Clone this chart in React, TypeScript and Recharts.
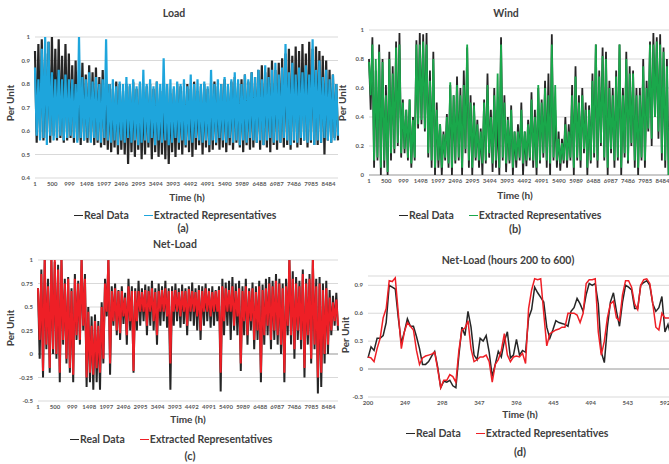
import { CartesianGrid, Line, LineChart, ReferenceLine, XAxis, YAxis } from "recharts";

// hour tick labels (Excel category labels every 499 h)
const hourTicks = [1, 500, 999, 1498, 1997, 2496, 2995, 3494, 3993, 4492, 4991, 5490, 5989, 6488, 6987, 7486, 7985, 8484];
const zoomTicks = [200, 249, 298, 347, 396, 445, 494, 543, 592];
const loadTicks = [0.4, 0.5, 0.6, 0.7, 0.8, 0.9, 1];
const windTicks = [0, 0.2, 0.4, 0.6, 0.8, 1];
const netTicks = [-0.5, -0.25, 0, 0.25, 0.5, 0.75, 1];
const zoomYTicks = [-0.3, 0, 0.3, 0.6, 0.9];

// yearly series, read as daily high / low envelopes (90 steps across the year)
const loadRealHigh = [
  0.94, 0.97, 0.99, 0.93, 0.98, 1.0, 0.95, 0.99, 0.92, 0.97, 0.93,
  0.88, 0.9, 0.86, 0.89, 0.84, 0.88, 0.85, 0.87, 0.83, 0.86, 0.82,
  0.8, 0.78, 0.81, 0.8, 0.77, 0.8, 0.79, 0.81, 0.78, 0.8, 0.76, 0.79, 0.8, 0.78, 0.81, 0.77, 0.79,
  0.8, 0.76, 0.78, 0.8, 0.79, 0.77, 0.8, 0.78, 0.81, 0.77, 0.79, 0.8, 0.78, 0.8, 0.81, 0.79,
  0.8, 0.82, 0.79, 0.81, 0.83, 0.8, 0.82, 0.84, 0.81, 0.85, 0.83,
  0.86, 0.88, 0.85, 0.87, 0.9, 0.86, 0.89, 0.91,
  0.93, 0.95, 0.92, 0.96, 0.94, 0.97, 0.93, 0.98, 0.95, 0.96, 0.94, 0.92, 0.9,
  0.86, 0.84, 0.8,
];
const loadRealLow = [
  0.55, 0.57, 0.56, 0.57, 0.55, 0.58, 0.56, 0.57, 0.55, 0.56, 0.57, 0.55, 0.56, 0.54, 0.56, 0.55, 0.56, 0.54, 0.55, 0.53, 0.54, 0.52,
  0.51, 0.53, 0.5, 0.52, 0.5, 0.46, 0.51, 0.49, 0.52, 0.48, 0.5, 0.53, 0.48, 0.51, 0.49, 0.5, 0.48,
  0.46, 0.51, 0.49, 0.52, 0.5, 0.53, 0.51, 0.49, 0.52, 0.54, 0.5, 0.53, 0.51, 0.52, 0.54, 0.52,
  0.53, 0.51, 0.54, 0.52, 0.55, 0.53, 0.51, 0.54, 0.52, 0.53, 0.55, 0.52, 0.54, 0.53, 0.51, 0.54, 0.52,
  0.55, 0.53, 0.54, 0.52, 0.55, 0.53, 0.54, 0.56, 0.53, 0.55, 0.54, 0.54, 0.55, 0.5, 0.56, 0.55, 0.57, 0.56,
];
const loadRepHigh = [
  0.87, 0.82, 0.95, 1.0, 0.98, 0.85, 0.82, 0.86, 0.82, 0.84, 0.82,
  0.82, 0.8, 1.0, 0.83, 0.82, 0.85, 0.81, 0.83, 0.8, 0.82, 0.99,
  0.8, 0.82, 0.79, 0.81, 0.8, 0.83, 0.8, 0.82, 0.79, 0.81, 0.86, 0.8, 0.82, 0.79, 0.81, 0.8, 0.91,
  0.8, 0.82, 0.79, 0.81, 0.8, 0.82, 0.79, 0.84, 0.8, 0.82, 0.8, 0.81, 0.79, 0.86, 0.8, 0.82,
  0.8, 0.83, 0.8, 0.82, 0.85, 0.82, 0.8, 0.84, 0.82, 0.85, 0.83, 0.86, 0.82, 0.88, 0.83, 0.86, 0.89, 0.84, 0.87,
  0.97, 0.85, 0.89, 0.84, 0.87, 0.85, 0.88, 0.84, 0.99, 0.86, 0.9, 0.83, 0.86, 0.82, 0.84, 0.8,
];
const loadRepLow = [
  0.58, 0.56, 0.57, 0.54, 0.58, 0.56, 0.57, 0.58, 0.56, 0.57, 0.58, 0.57, 0.55, 0.57, 0.56, 0.57, 0.55, 0.57, 0.56, 0.55, 0.57, 0.56,
  0.55, 0.56, 0.54, 0.56, 0.55, 0.57, 0.55, 0.56, 0.54, 0.55, 0.56, 0.55, 0.57, 0.54, 0.56, 0.55, 0.56,
  0.54, 0.55, 0.57, 0.55, 0.56, 0.54, 0.56, 0.55, 0.57, 0.56, 0.55, 0.56, 0.54, 0.56, 0.55, 0.57,
  0.56, 0.55, 0.57, 0.55, 0.56, 0.54, 0.56, 0.55, 0.57, 0.56, 0.55, 0.56, 0.54, 0.56, 0.57, 0.55, 0.56,
  0.55, 0.57, 0.56, 0.54, 0.56, 0.55, 0.57, 0.56, 0.55, 0.56, 0.54, 0.56, 0.55, 0.57, 0.56, 0.55, 0.56, 0.58,
];

const windRealHigh = [
  0.8, 0.95, 0.72, 0.9, 0.8, 0.62, 0.85, 0.75, 0.92, 0.98,
  0.52, 0.45, 0.52, 0.4, 0.93, 0.98, 0.97, 0.98, 0.72, 0.85,
  0.5, 0.35, 0.3, 0.42, 0.62, 0.55, 0.68, 0.6, 0.72, 0.88,
  0.55, 0.5, 0.38, 0.32, 0.52, 0.7, 0.45, 0.6, 0.4, 0.95,
  0.55, 0.4, 0.48, 0.3, 0.35, 0.5, 0.3, 0.38, 0.57, 0.45,
  0.6, 0.52, 0.65, 0.7, 0.97, 0.45, 0.3, 0.25, 0.4, 0.35,
  0.62, 0.75, 0.55, 0.6, 0.5, 0.48, 0.7, 0.9, 0.72, 0.88,
  0.85, 0.65, 0.6, 0.72, 0.9, 0.6, 0.85, 0.75, 0.72, 0.6,
  0.6, 0.8, 0.65, 0.92, 0.98, 0.95, 0.97, 0.88, 0.8, 0.5,
];
const windRealLow = [
  0.45, 0.05, 0.1, 0.0, 0.05, 0.0, 0.1, 0.15, 0.2, 0.12,
  0.15, 0.1, 0.05, 0.1, 0.32, 0.35, 0.3, 0.12, 0.05, 0.0,
  0.05, 0.0, 0.1, 0.05, 0.0, 0.08, 0.1, 0.0, 0.15, 0.05,
  0.0, 0.1, 0.05, 0.0, 0.08, 0.12, 0.02, 0.05, 0.0, 0.1,
  0.02, 0.08, 0.0, 0.05, 0.1, 0.0, 0.06, 0.1, 0.05, 0.0,
  0.08, 0.12, 0.05, 0.0, 0.1, 0.05, 0.03, 0.08, 0.05, 0.1,
  0.0, 0.1, 0.05, 0.15, 0.0, 0.08, 0.12, 0.05, 0.2, 0.1,
  0.0, 0.15, 0.05, 0.1, 0.0, 0.12, 0.08, 0.2, 0.05, 0.0,
  0.1, 0.05, 0.3, 0.2, 0.4, 0.25, 0.1, 0.05, 0.0, 0.15,
];
const windRepHigh = [
  0.78, 0.9, 0.8, 0.85, 0.78, 0.55, 0.8, 0.7, 0.88, 0.9,
  0.5, 0.45, 0.52, 0.38, 0.9, 0.9, 0.92, 0.9, 0.65, 0.8,
  0.45, 0.35, 0.28, 0.4, 0.64, 0.55, 0.62, 0.55, 0.62, 0.9,
  0.5, 0.48, 0.35, 0.3, 0.5, 0.62, 0.4, 0.55, 0.7, 0.9,
  0.5, 0.38, 0.45, 0.3, 0.3, 0.45, 0.3, 0.35, 0.52, 0.4,
  0.62, 0.5, 0.6, 0.55, 0.9, 0.62, 0.25, 0.22, 0.35, 0.3,
  0.55, 0.68, 0.5, 0.55, 0.45, 0.45, 0.65, 0.9, 0.68, 0.82,
  0.8, 0.6, 0.55, 0.68, 0.9, 0.55, 0.8, 0.7, 0.7, 0.55,
  0.55, 0.75, 0.6, 0.9, 0.9, 0.92, 0.9, 0.85, 0.75, 0.45,
];
const windRepLow = [
  0.55, 0.1, 0.12, 0.05, 0.1, 0.02, 0.15, 0.18, 0.22, 0.15,
  0.18, 0.12, 0.08, 0.12, 0.35, 0.38, 0.32, 0.15, 0.1, 0.05,
  0.1, 0.05, 0.12, 0.08, 0.05, 0.1, 0.12, 0.05, 0.18, 0.1,
  0.05, 0.12, 0.1, 0.08, 0.1, 0.15, 0.08, 0.1, 0.05, 0.12,
  0.08, 0.1, 0.05, 0.1, 0.12, 0.08, 0.1, 0.12, 0.1, 0.05,
  0.1, 0.15, 0.1, 0.08, 0.12, 0.1, 0.08, 0.1, 0.1, 0.12,
  0.05, 0.12, 0.1, 0.18, 0.05, 0.1, 0.15, 0.1, 0.22, 0.12,
  0.05, 0.18, 0.1, 0.12, 0.05, 0.15, 0.1, 0.22, 0.1, 0.05,
  0.12, 0.1, 0.32, 0.25, 0.4, 0.3, 0.15, 0.1, 0.0, 0.18,
];

const netRealHigh = [
  0.7, 0.9, 1.0, 0.8, 1.0, 0.98, 0.95, 1.0, 0.8, 0.82,
  0.7, 0.85, 0.78, 1.0, 0.85, 0.5, 0.4, 0.42, 0.35, 0.55,
  0.8, 1.0, 0.72, 0.75, 0.68, 0.72, 0.65, 0.8, 0.72, 0.7,
  0.78, 0.7, 0.74, 0.72, 0.78, 0.7, 0.75, 0.72, 0.78, 0.7,
  0.72, 0.75, 0.7, 0.74, 0.7, 0.72, 0.76, 0.7, 0.73, 0.72,
  0.75, 0.7, 0.72, 0.68, 0.72, 0.8, 0.76, 0.78, 0.82, 0.75,
  0.78, 0.72, 0.8, 0.7, 0.76, 0.72, 0.78, 0.74, 0.8, 0.82,
  0.78, 0.85, 0.8, 0.75, 0.8, 1.0, 0.88, 0.82, 0.78, 0.9,
  0.8, 0.85, 1.0, 0.8, 0.82, 0.75, 0.78, 0.68, 0.62, 0.65,
];
const netRealLow = [
  -0.05, -0.25, 0.05, -0.2, 0.0, -0.05, -0.3, 0.1, -0.1, -0.2,
  -0.3, 0.15, 0.1, 0.25, -0.35, -0.3, -0.38, -0.3, -0.38, -0.1,
  0.4, -0.22, 0.3, 0.2, 0.15, 0.32, 0.1, 0.25, -0.2, 0.25,
  0.3, 0.35, 0.2, 0.3, 0.25, 0.1, 0.3, 0.35, 0.28, -0.38,
  0.3, 0.35, 0.28, 0.32, 0.2, 0.35, 0.3, 0.25, 0.15, 0.3,
  0.35, 0.28, 0.3, 0.35, -0.4, 0.2, 0.3, 0.15, 0.25, 0.2,
  -0.18, 0.2, 0.1, 0.25, 0.05, 0.15, -0.3, 0.1, 0.2, 0.05,
  0.15, 0.1, 0.0, -0.3, 0.2, 0.1, -0.05, 0.15, 0.05, -0.25,
  0.1, -0.1, 0.05, -0.42, -0.35, -0.1, 0.0, 0.2, 0.3, 0.25,
];
const netRepHigh = [
  0.7, 0.85, 1.0, 0.72, 1.0, 1.0, 0.9, 1.0, 0.75, 0.8,
  0.67, 0.8, 0.75, 1.0, 0.8, 0.45, 0.3, 0.35, 0.3, 0.5,
  0.75, 1.0, 0.67, 0.7, 0.67, 0.67, 0.6, 0.72, 0.67, 0.67,
  0.67, 0.66, 0.68, 0.67, 0.7, 0.66, 0.67, 0.68, 0.7, 0.67,
  0.67, 0.68, 0.66, 0.67, 0.67, 0.69, 0.67, 0.66, 0.68, 0.67,
  0.7, 0.67, 0.66, 0.67, 0.68, 0.72, 0.7, 0.68, 0.72, 0.67,
  0.7, 0.67, 0.72, 0.67, 0.7, 0.66, 0.72, 0.68, 0.7, 0.75,
  0.72, 0.78, 0.75, 0.7, 0.72, 1.0, 0.8, 0.75, 0.72, 0.85,
  0.75, 0.8, 1.0, 0.72, 0.75, 0.68, 0.7, 0.6, 0.55, 0.58,
];
const netRepLow = [
  0.15, -0.18, 0.1, -0.15, 0.05, 0.0, -0.2, 0.15, -0.05, -0.15,
  -0.22, 0.2, 0.15, 0.3, -0.25, -0.2, -0.22, -0.15, -0.2, -0.05,
  0.45, -0.1, 0.35, 0.25, 0.22, 0.4, 0.2, 0.35, -0.18, 0.35,
  0.45, 0.45, 0.3, 0.45, 0.35, 0.2, 0.45, 0.45, 0.4, -0.1,
  0.45, 0.45, 0.4, 0.45, 0.3, 0.45, 0.45, 0.4, 0.25, 0.45,
  0.45, 0.4, 0.45, 0.45, -0.2, 0.35, 0.45, 0.45, 0.3, 0.4,
  -0.1, 0.35, 0.2, 0.35, 0.15, 0.25, -0.2, 0.2, 0.3, 0.15,
  0.25, 0.2, 0.1, -0.2, 0.3, 0.2, 0.05, 0.25, 0.15, -0.15,
  0.2, -0.05, 0.1, -0.25, -0.2, 0.0, 0.1, 0.25, 0.35, 0.3,
];

// hours 200 to 600, every 4 h
const zoomReal = [
  0.12, 0.24, 0.2, 0.33, 0.33, 0.36, 0.5, 0.9, 0.88, 0.86,
  0.55, 0.28, 0.4, 0.54, 0.46, 0.46, 0.35, 0.22, 0.05, 0.05,
  0.08, 0.14, 0.19, 0.02, -0.2, -0.13, -0.14, -0.12, -0.18, -0.2,
  0.15, 0.45, 0.36, 0.62, 0.45, 0.15, 0.1, 0.33, 0.3, 0.36,
  0.18, -0.08, 0.05, 0.19, 0.13, 0.3, 0.4, 0.12, 0.15, 0.32,
  0.15, 0.2, 0.18, 0.55, 0.64, 0.88, 0.82, 0.77, 0.72, 0.45,
  0.33, 0.42, 0.52, 0.5, 0.49, 0.48, 0.46, 0.62, 0.66, 0.76,
  0.7, 0.62, 0.8, 0.92, 0.9, 0.92, 0.7, 0.18, 0.07, 0.45,
  0.72, 0.82, 0.62, 0.46, 0.72, 0.9, 0.88, 0.85, 0.65, 0.65,
  0.9, 0.93, 0.95, 0.9, 0.7, 0.62, 0.66, 0.78, 0.4, 0.48, 0.35,
];
const zoomRep = [
  0.13, 0.12, 0.08, 0.22, 0.33, 0.55, 0.65, 0.95, 0.94, 0.98,
  0.6, 0.22, 0.4, 0.5, 0.46, 0.42, 0.2, 0.05, 0.12, 0.14,
  0.15, 0.16, 0.18, 0.0, -0.2, -0.12, -0.12, -0.06, -0.08, -0.14,
  0.2, 0.42, 0.44, 0.52, 0.22, 0.08, 0.1, 0.13, 0.13, 0.15,
  0.08, -0.14, 0.05, 0.1, 0.2, 0.38, 0.15, 0.08, 0.13, 0.14,
  0.13, 0.17, 0.06, 0.65, 0.85, 0.97, 0.96, 0.97, 0.6, 0.25,
  0.38, 0.4, 0.42, 0.43, 0.45, 0.45, 0.6, 0.6, 0.6, 0.58,
  0.5, 0.6, 0.92, 0.96, 0.96, 0.97, 0.4, 0.15, 0.3, 0.55,
  0.7, 0.73, 0.55, 0.52, 0.8, 0.95, 0.95, 0.88, 0.7, 0.64,
  0.9, 0.96, 0.97, 0.92, 0.7, 0.45, 0.42, 0.6, 0.55, 0.55, 0.55,
];

const FONT = "Lato, 'Open Sans', sans-serif";
const INK = "#404040";
const REAL = "#262626";

function yearRows(realHigh: number[], realLow: number[], repHigh: number[], repLow: number[]) {
  const n = realHigh.length * 2;
  const rows: { hour: number; real: number; rep: number }[] = [];
  for (let i = 0; i < realHigh.length; i++) {
    rows.push({ hour: 1 + ((2 * i) * 8759) / (n - 1), real: realHigh[i], rep: repHigh[i] });
    rows.push({ hour: 1 + ((2 * i + 1) * 8759) / (n - 1), real: realLow[i], rep: repLow[i] });
  }
  return rows;
}

const loadData = yearRows(loadRealHigh, loadRealLow, loadRepHigh, loadRepLow);
const windData = yearRows(windRealHigh, windRealLow, windRepHigh, windRepLow);
const netData = yearRows(netRealHigh, netRealLow, netRepHigh, netRepLow);
const zoomData = zoomReal.map((v, i) => ({ hour: 200 + i * 4, real: v, rep: zoomRep[i] }));

const tickStyle = { fontSize: 6, fontWeight: 700, fill: "#595959", fontFamily: FONT };

interface PanelProps {
  left: number;
  top: number;
  width: number;
  height: number;
  marginTop: number;
  marginRight: number;
  yWidth: number;
  data: { hour: number; real: number; rep: number }[];
  xDomain: [number, number];
  xTicks: number[];
  yDomain: [number, number];
  yTicks: number[];
  color: string;
  zeroLine?: boolean;
  strokeWidth: number;
}

function Panel(p: PanelProps) {
  return (
    <div style={{ position: "absolute", left: p.left, top: p.top }}>
      <LineChart
        width={p.width}
        height={p.height}
        data={p.data}
        margin={{ top: p.marginTop, right: p.marginRight, bottom: 0, left: 0 }}
      >
        <CartesianGrid vertical={false} stroke="#d9d9d9" />
        <XAxis
          dataKey="hour"
          type="number"
          domain={p.xDomain}
          ticks={p.xTicks}
          interval={0}
          axisLine={false}
          tickLine={false}
          tickSize={0}
          tickMargin={4}
          height={17}
          tick={tickStyle}
        />
        <YAxis
          type="number"
          domain={p.yDomain}
          ticks={p.yTicks}
          interval={0}
          axisLine={false}
          tickLine={false}
          tickSize={0}
          tickMargin={5}
          width={p.yWidth}
          tick={tickStyle}
        />
        {p.zeroLine && <ReferenceLine y={0} stroke="#bfbfbf" strokeWidth={1.5} />}
        <Line type="linear" dataKey="real" stroke={REAL} strokeWidth={p.strokeWidth} dot={false} isAnimationActive={false} />
        <Line type="linear" dataKey="rep" stroke={p.color} strokeWidth={p.strokeWidth} dot={false} isAnimationActive={false} />
      </LineChart>
    </div>
  );
}

function Label({ x, y, size, text, rotate }: { x: number; y: number; size: number; text: string; rotate?: boolean }) {
  return (
    <div
      style={{
        position: "absolute",
        left: x,
        top: y,
        transform: `translate(-50%, -50%)${rotate ? " rotate(-90deg)" : ""}`,
        fontSize: size,
        fontWeight: 700,
        color: INK,
        whiteSpace: "nowrap",
        lineHeight: 1,
      }}
    >
      {text}
    </div>
  );
}

function Swatch({ color }: { color: string }) {
  return (
    <svg width={9} height={14} style={{ display: "block", marginRight: 1 }}>
      <line x1={0} y1={7.5} x2={9} y2={7.5} stroke={color} strokeWidth={1} />
    </svg>
  );
}

function Legend({ x, y, color }: { x: number; y: number; color: string }) {
  return (
    <div
      style={{
        position: "absolute",
        left: x,
        top: y - 7,
        height: 14,
        display: "flex",
        alignItems: "center",
        fontSize: 10.5,
        fontWeight: 700,
        color: INK,
        whiteSpace: "nowrap",
      }}
    >
      <Swatch color={REAL} />
      <span>Real Data</span>
      <span style={{ width: 15 }} />
      <Swatch color={color} />
      <span>Extracted Representatives</span>
    </div>
  );
}

export default function App() {
  return (
    <div
      style={{
        position: "absolute",
        left: 0,
        top: 0,
        width: 669,
        height: 464,
        overflow: "hidden",
        background: "#fff",
        fontFamily: FONT,
      }}
    >
      <Panel left={0} top={20} width={340} height={175} marginTop={17} marginRight={2} yWidth={35}
        data={loadData} xDomain={[1, 8760]} xTicks={hourTicks} yDomain={[0.4, 1]} yTicks={loadTicks}
        color="#1ea5dc" strokeWidth={2.2} />
      <Panel left={340} top={20} width={332} height={172} marginTop={10} marginRight={0} yWidth={29}
        data={windData} xDomain={[1, 8760]} xTicks={hourTicks} yDomain={[0, 1]} yTicks={windTicks}
        color="#1aa84b" strokeWidth={1.8} zeroLine />
      <Panel left={0} top={250} width={339} height={168} marginTop={10} marginRight={1} yWidth={38}
        data={netData} xDomain={[1, 8760]} xTicks={hourTicks} yDomain={[-0.5, 1]} yTicks={netTicks}
        color="#ee1f26" strokeWidth={2} zeroLine />
      <Panel left={340} top={265} width={331} height={149} marginTop={11} marginRight={0} yWidth={28}
        data={zoomData} xDomain={[200, 600]} xTicks={zoomTicks} yDomain={[-0.3, 1]} yTicks={zoomYTicks}
        color="#ee1f26" strokeWidth={1.5} zeroLine />

      <Label x={174} y={13} size={10.5} text="Load" />
      <Label x={506} y={13} size={10.5} text="Wind" />
      <Label x={175} y={244} size={10.5} text="Net-Load" />
      <Label x={508} y={260} size={10.5} text="Net-Load (hours 200 to 600)" />

      <Label x={187} y={197} size={10} text="Time (h)" />
      <Label x={515} y={195} size={10} text="Time (h)" />
      <Label x={188} y={419} size={10} text="Time (h)" />
      <Label x={520} y={414} size={10} text="Time (h)" />

      <Label x={10} y={103} size={10} text="Per Unit" rotate />
      <Label x={342} y={103} size={10} text="Per Unit" rotate />
      <Label x={10} y={328} size={10} text="Per Unit" rotate />
      <Label x={345} y={335} size={10} text="Per Unit" rotate />

      <Legend x={74} y={215} color="#1ea5dc" />
      <Legend x={399} y={215} color="#1aa84b" />
      <Legend x={70} y={439} color="#ee1f26" />
      <Legend x={406} y={433} color="#ee1f26" />

      <Label x={183} y={227} size={11} text="(a)" />
      <Label x={515} y={228} size={11} text="(b)" />
      <Label x={190} y={455} size={11} text="(c)" />
      <Label x={520} y={451} size={11} text="(d)" />
    </div>
  );
}
